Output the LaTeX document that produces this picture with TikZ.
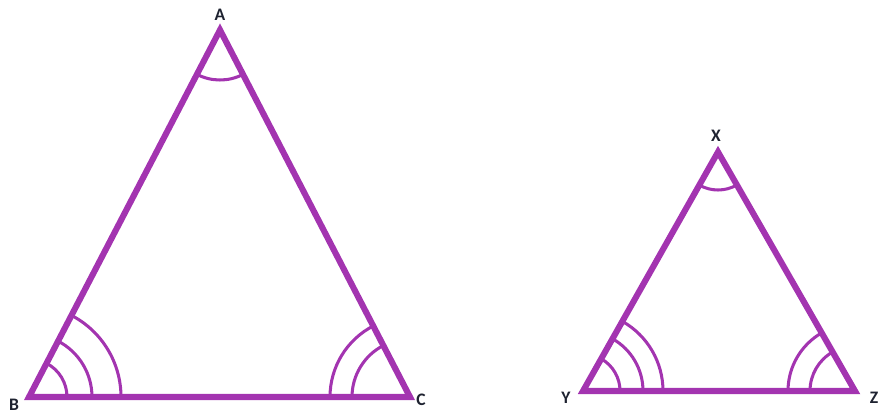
\documentclass[tikz,border=0pt]{standalone}
\usepackage{fontspec}
\setsansfont{Carlito}
\definecolor{viola}{RGB}{163,52,176}
\definecolor{inchiostro}{RGB}{30,34,48}
\begin{document}
\begin{tikzpicture}[
			x=0.03cm, y=0.03cm,
			lato/.style={line width=5.2pt, line join=miter, viola},
			arco/.style={line width=2.6pt, line cap=round, viola},
			lab/.style={font=\sffamily\bfseries\fontsize{15}{15}\selectfont, inchiostro},
			]
			\useasboundingbox (0,0) rectangle (878,414);
			
			%%═══ TRIANGOLO ABC ══════════════════════════
			\coordinate (A) at (220,384);
			\coordinate (B) at (29,17);
			\coordinate (C) at (410,17);
			\draw[lato] (A) -- (B) -- (C) -- cycle;
			% angoli
			\draw[arco] (A) ++(242.4:50) arc (242.4:297.3:50);             % un arco in A
			\foreach \r in {38,63,92}
				\draw[arco] (B) ++(0:\r) arc (0:62.4:\r);                   % tre archi in B
			\foreach \r in {58,80}
				\draw[arco] (C) ++(180:\r) arc (180:117.3:\r);              % due archi in C
			% etichette
			\node[lab] (labA) at (220,399) {A};
			\node[lab] (labB) at (14,9) {B};
			\node[lab] (labC) at (421,14) {C};
			
			%%═══ TRIANGOLO XYZ ══════════════════════════
			\coordinate (X) at (718,262);
			\coordinate (Y) at (583,23);
			\coordinate (Z) at (855,23);
			\draw[lato] (X) -- (Y) -- (Z) -- cycle;
			% angoli
			\draw[arco] (X) ++(240.4:38) arc (240.4:299.8:38);             % un arco in X
			\foreach \r in {37,60,80}
				\draw[arco] (Y) ++(0:\r) arc (0:60.4:\r);                   % tre archi in Y
			\foreach \r in {45,67}
				\draw[arco] (Z) ++(180:\r) arc (180:119.8:\r);              % due archi in Z
			% etichette
			\node[lab] (labX) at (716,278) {X};
			\node[lab] (labY) at (566,16) {Y};
			\node[lab] (labZ) at (874,16) {Z};
		\end{tikzpicture}
\end{document}
